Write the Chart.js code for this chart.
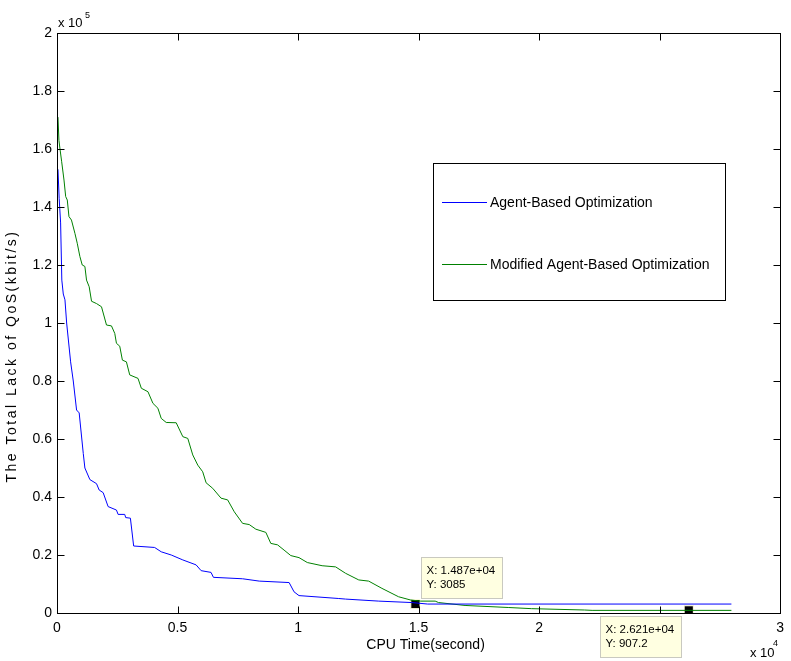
<!DOCTYPE html>
<html>
<head>
<meta charset="utf-8">
<script src="https://cdn.jsdelivr.net/npm/chart.js@4.4.1/dist/chart.umd.min.js"></script>
<style>
  html, body { margin: 0; padding: 0; background: #fff; }
  #wrap { width: 791px; height: 661px; }
</style>
</head>
<body>
<div id="wrap"><canvas id="qosChart" width="791" height="661"></canvas></div>
<script>
// CPU time (s) and total lack of QoS (kbit/s)
const agentX = [40, 90, 150, 200, 260, 330, 400, 565, 675, 812, 920, 1090, 1157, 1364, 1640, 1750, 1915,
    2120, 2466, 2535, 2810, 2850, 3045, 3180, 4050, 4325, 4740, 5220, 5770, 5980, 6390, 6490, 7700, 8390,
    9630, 9835, 10040, 11690, 11970, 13350, 14720, 15380, 27980];
const agentY = [153000, 143000, 134500, 114800, 110000, 108000, 100000, 86600, 80000, 70000, 69000, 55000,
    50000, 46000, 44600, 42400, 41500, 36700, 35500, 34000, 34000, 32900, 32700, 23100, 22600, 21100, 20000,
    18300, 16600, 14600, 14000, 12300, 11800, 11000, 10500, 7300, 6000, 5000, 4800, 4100, 3600, 3085, 3085];

const modX = [40, 80, 124, 194, 290, 360, 427, 496, 600, 744, 840, 950, 1047, 1157, 1225, 1335, 1433, 1640,
    1846, 2053, 2260, 2397, 2466, 2603, 2713, 2880, 3017, 3361, 3499, 3774, 3980, 4187, 4325, 4532, 4945,
    5220, 5426, 5632, 5840, 6045, 6186, 6460, 6805, 7080, 7355, 7700, 7975, 8250, 8665, 8870, 9150, 9420,
    9700, 10040, 10385, 11000, 11560, 11970, 12520, 12930, 13480, 14170, 14660, 15080, 15690, 15830, 16930,
    18720, 19680, 21890, 22200, 27980];
const modY = [171000, 163000, 160000, 155600, 149300, 143600, 142400, 136700, 135500, 130900, 127500, 122900,
    120000, 119500, 114800, 112500, 107500, 106700, 105600, 99300, 99000, 96400, 93000, 92000, 87200, 86600,
    82100, 80900, 77500, 76300, 72300, 70600, 67100, 65700, 65600, 60800, 60200, 54500, 51000, 48700, 44900,
    43000, 39600, 39000, 34900, 30900, 30500, 28900, 27800, 24000, 23500, 21700, 19800, 19100, 17400, 16300,
    15900, 13700, 11400, 11000, 8500, 5600, 4500, 4100, 4100, 3600, 2600, 1900, 1500, 1030, 907, 907];

const seriesNames = ["Agent-Based Optimization", "Modified Agent-Based Optimization"];
const seriesColors = ["#0000ff", "#008000"];

// data tips
const tipX = [14870, 26210];
const tipY = [3085, 907.2];
const tipText = [["X: 1.487e+04", "Y: 3085"], ["X: 2.621e+04", "Y: 907.2"]];
const tipOffset = [[6, -47], [-89, 6]];

const FONT = '"Liberation Sans", Arial, sans-serif';

function toPoints(xs, ys) {
    return xs.map((x, i) => ({ x: x, y: ys[i] }));
}

function fmt(v, div) {
    return String(Math.round(v / div * 10) / 10);
}

const matlabAxes = {
    id: "matlabAxes",
    afterDraw(chart) {
        const ctx = chart.ctx;
        const a = chart.chartArea;
        const xs = chart.scales.x, ys = chart.scales.y;
        const L = Math.round(a.left) + 0.5, R = Math.round(a.right) + 0.5;
        const T = Math.round(a.top) + 0.5, B = Math.round(a.bottom) + 0.5;
        ctx.save();
        ctx.strokeStyle = "#000";
        ctx.lineWidth = 1;

        // inward ticks on all four sides
        ctx.beginPath();
        xs.ticks.forEach(t => {
            const px = Math.round(xs.getPixelForValue(t.value)) + 0.5;
            ctx.moveTo(px, B); ctx.lineTo(px, B - 7);
            ctx.moveTo(px, T); ctx.lineTo(px, T + 7);
        });
        ys.ticks.forEach(t => {
            const py = Math.round(ys.getPixelForValue(t.value)) + 0.5;
            ctx.moveTo(L, py); ctx.lineTo(L + 7, py);
            ctx.moveTo(R, py); ctx.lineTo(R - 7, py);
        });
        ctx.stroke();
        ctx.strokeRect(L, T, R - L, B - T);

        // legend box
        ctx.fillStyle = "#fff";
        ctx.fillRect(433.5, 163.5, 292, 137);
        ctx.strokeRect(433.5, 163.5, 292, 137);
        const legY = [202.5, 264.5];
        ctx.font = "14px " + FONT;
        ctx.textBaseline = "middle";
        ctx.textAlign = "left";
        seriesNames.forEach((n, i) => {
            ctx.strokeStyle = seriesColors[i];
            ctx.beginPath();
            ctx.moveTo(442, legY[i]); ctx.lineTo(487, legY[i]);
            ctx.stroke();
            ctx.fillStyle = "#000";
            ctx.fillText(n, 490, legY[i] + 0.5);
        });

        // data tip boxes
        ctx.font = "11.5px " + FONT;
        tipX.forEach((x, i) => {
            const px = xs.getPixelForValue(x), py = ys.getPixelForValue(tipY[i]);
            const bx = Math.round(px + tipOffset[i][0]) + 0.5;
            const by = Math.round(py + tipOffset[i][1]) + 0.5;
            ctx.fillStyle = "#ffffe1";
            ctx.fillRect(bx, by, 81, 41);
            ctx.strokeStyle = "#c9c9c0";
            ctx.strokeRect(bx, by, 81, 41);
            ctx.fillStyle = "#000";
            ctx.fillText(tipText[i][0], bx + 5, by + 13.5);
            ctx.fillText(tipText[i][1], bx + 5, by + 27.5);
        });

        // exponent labels
        ctx.fillStyle = "#000";
        ctx.textBaseline = "alphabetic";
        ctx.font = "13px " + FONT;
        ctx.fillText("x 10", 58, 27);
        ctx.fillText("x 10", 750, 657);
        ctx.font = "9px " + FONT;
        ctx.fillText("5", 85, 18);
        ctx.fillText("4", 773, 646);

        // axis titles
        ctx.font = "14px " + FONT;
        ctx.textAlign = "center";
        ctx.textBaseline = "middle";
        ctx.fillText("CPU Time(second)", (a.left + a.right) / 2 + 7, 645);
        ctx.translate(12, 356);
        ctx.rotate(-Math.PI / 2);
        ctx.letterSpacing = "2.5px";
        ctx.fillText("The Total Lack of QoS(kbit/s)", 0, 0);
        ctx.restore();
    }
};

const ctx = document.getElementById("qosChart").getContext("2d");
new Chart(ctx, {
    type: "scatter",
    data: {
        datasets: [
            {
                label: seriesNames[0],
                data: toPoints(agentX, agentY),
                showLine: true,
                borderColor: seriesColors[0],
                borderWidth: 1,
                pointRadius: 0,
                tension: 0
            },
            {
                label: seriesNames[1],
                data: toPoints(modX, modY),
                showLine: true,
                borderColor: seriesColors[1],
                borderWidth: 1,
                pointRadius: 0,
                tension: 0
            },
            {
                label: "tips",
                data: toPoints(tipX, tipY),
                showLine: false,
                pointStyle: "rect",
                pointRadius: 6.5,
                backgroundColor: "#000",
                borderColor: "#ffffe1",
                borderWidth: 1
            }
        ]
    },
    options: {
        responsive: false,
        animation: false,
        devicePixelRatio: 1,
        layout: { padding: { top: 33, right: 8, left: 0, bottom: 0 } },
        plugins: {
            legend: { display: false },
            tooltip: { enabled: false }
        },
        scales: {
            x: {
                type: "linear",
                min: 0,
                max: 30000,
                afterFit: s => { s.height = 48; },
                grid: { display: false, drawTicks: false },
                border: { display: false },
                ticks: {
                    stepSize: 5000,
                    padding: 7,
                    color: "#000",
                    font: { family: FONT, size: 14 },
                    callback: v => fmt(v, 1e4)
                }
            },
            y: {
                type: "linear",
                min: 0,
                max: 200000,
                afterFit: s => { s.width = 57; },
                grid: { display: false, drawTicks: false },
                border: { display: false },
                ticks: {
                    stepSize: 20000,
                    padding: 5,
                    color: "#000",
                    font: { family: FONT, size: 14 },
                    callback: v => fmt(v, 1e5)
                }
            }
        }
    },
    plugins: [matlabAxes]
});
</script>
</body>
</html>
